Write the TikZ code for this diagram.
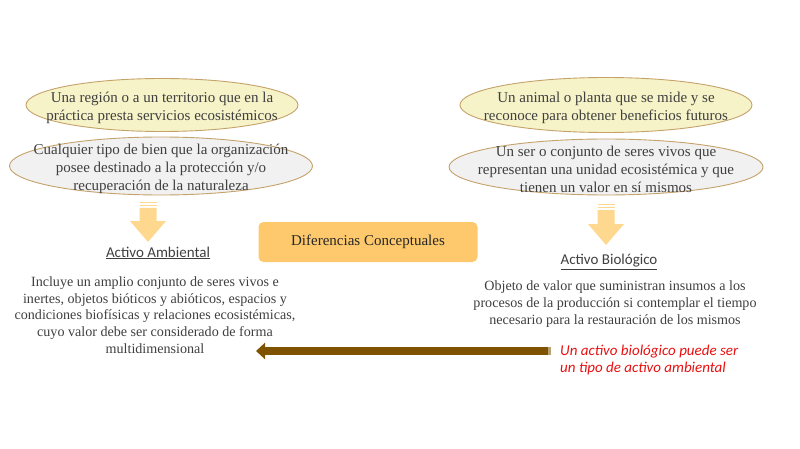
\documentclass[tikz,border=0pt]{standalone}
\usepackage{fontspec}
\setmainfont{Liberation Serif}
\newfontfamily\carl{Carlito}
\usetikzlibrary{shapes.geometric,arrows.meta}
\definecolor{txt}{HTML}{3F3F3F}
\definecolor{yfill}{HTML}{F6F3C8}
\definecolor{gfill}{HTML}{F1F1F1}
\definecolor{edge}{HTML}{C4A26A}
\definecolor{boxc}{HTML}{FDC96C}
\definecolor{arrc}{HTML}{FED88E}
\definecolor{brn}{HTML}{7F5200}
\definecolor{redt}{HTML}{E81010}
\tikzset{
  ell/.style={ellipse, draw=edge, line width=0.9pt, inner sep=0pt},
  yell/.style={ell, fill=yfill},
  gell/.style={ell, fill=gfill},
  etext/.style={align=center, font=\fontsize{15}{18}\selectfont, text=txt, inner sep=0pt, yshift=-2.5pt},
  body/.style={align=center, font=\fontsize{14.1}{16.6}\selectfont, text=txt, inner sep=0pt},
  head/.style={font=\carl\fontsize{15}{16}\selectfont, text=txt, inner sep=0pt},
  red/.style={align=left, font=\carl\itshape\fontsize{15}{17.5}\selectfont, text=redt, inner sep=0pt, anchor=west},
}
\newcommand{\downarr}[3]{% x, top y, tip y
  \fill[arrc] (#1-8.5,#2) rectangle (#1+8.5,#2+1.5);
  \fill[arrc] (#1-8.5,#2+3) rectangle (#1+8.5,#2+4.5);
  \fill[arrc] (#1-8.5,#2+6) -- (#1+8.5,#2+6) -- (#1+8.5,#3-21) -- (#1+18,#3-21)
     -- (#1,#3) -- (#1-18,#3-21) -- (#1-8.5,#3-21) -- cycle;
}
\begin{document}
\begin{tikzpicture}[x=1pt,y=-1pt]
\useasboundingbox (0,0) rectangle (800,449);
% left column
\node[yell, minimum width=272pt, minimum height=53pt] (ly) at (162,105) {};
\node[etext] (lyt) at (ly) {Una región o a un territorio que en la\\práctica presta servicios ecosistémicos};
\node[gell, minimum width=303pt, minimum height=58pt] (lg) at (161,166) {};
\node[etext] (lgt) at (lg) {Cualquier tipo de bien que la organización\\posee destinado a la protección y/o\\recuperación de la naturaleza};
\downarr{148}{202}{242}
\node[head] (la) at (158,253) {\underline{Activo Ambiental}};
\node[body] (lb) at (155,315) {Incluye un amplio conjunto de seres vivos e\\inertes, objetos bióticos y abióticos, espacios y\\condiciones biofísicas y relaciones ecosistémicas,\\cuyo valor debe ser considerado de forma\\multidimensional};
% center
\node[fill=boxc, rounded corners=5pt, minimum width=219pt, minimum height=40pt,
  font=\fontsize{15}{16}\selectfont, text=black!85] (dc) at (368,242) {Diferencias Conceptuales};
% right column
\node[yell, minimum width=292pt, minimum height=55pt] (ry) at (606,105) {};
\node[etext] (ryt) at (ry) {Un animal o planta que se mide y se\\reconoce para obtener beneficios futuros};
\node[gell, minimum width=314pt, minimum height=56pt] (rg) at (606,167) {};
\node[etext] (rgt) at (rg) {Un ser o conjunto de seres vivos que\\representan una unidad ecosistémica y que\\tienen un valor en sí mismos};
\downarr{606}{204}{245}
\node[head] (ra) at (609,262) {\underline{Activo Biológico}};
\node[body, font=\fontsize{14.1}{17}\selectfont] (rb) at (615,304.5) {Objeto de valor que suministran insumos a los\\procesos de la producción si contemplar el tiempo\\necesario para la restauración de los mismos};
% red note and arrow
\node[red] (rn) at (560,360) {Un activo biológico puede ser\\un tipo de activo ambiental};
\coordinate (as) at (548,351);
\coordinate (ae) at (256,351);
\fill[brn!55!white] (548,347) rectangle (551,355);
\draw[brn, line width=8pt, -{Triangle[length=9pt,width=16pt]}] (as) -- (ae);
\end{tikzpicture}
\end{document}
